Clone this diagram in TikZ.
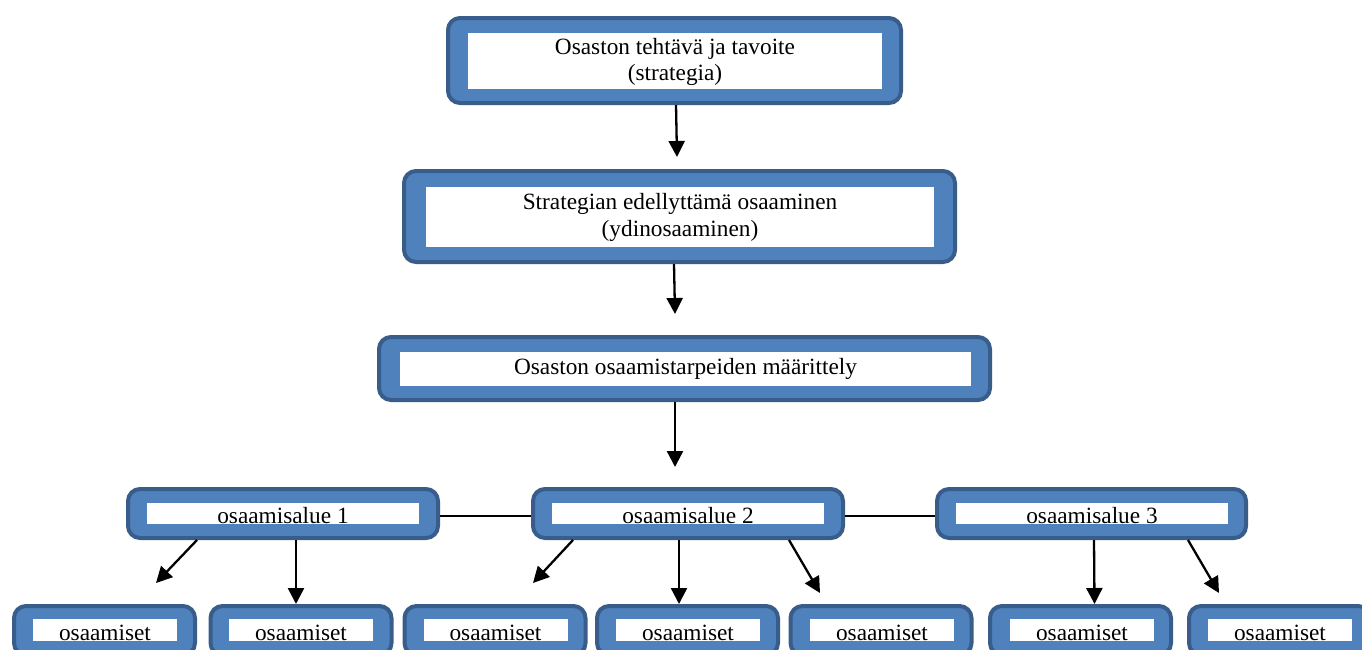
\documentclass[tikz,border=0pt]{standalone}
\usepackage{fontspec}
\setmainfont{Liberation Serif}
\usetikzlibrary{arrows.meta}
\definecolor{boxfill}{HTML}{4F81BD}
\definecolor{boxline}{HTML}{385D8A}
\tikzset{
  outerbox/.style={draw=boxline, line width=4pt, fill=boxfill, rounded corners=12pt, inner sep=0pt},
  innerbox/.style={fill=white, draw=none, inner sep=0pt},
  txt/.style={inner sep=0pt, anchor=base, font=\fontsize{23.3}{28}\selectfont},
  arr/.style={line width=2.3pt, -{Triangle[width=16pt,length=16pt]}},
  link/.style={line width=1.6pt},
  bottombox/.style={outerbox, minimum width=181pt, minimum height=49pt},
  bottominner/.style={innerbox, minimum width=144pt, minimum height=22pt},
  areabox/.style={outerbox, minimum width=310pt, minimum height=49pt},
  areainner/.style={innerbox, minimum width=272pt, minimum height=21pt}
}
\begin{document}
\begin{tikzpicture}[x=1pt,y=-1pt]
\useasboundingbox (0,0) rectangle (1362,649);
\clip (0,0) rectangle (1362,649);
% top box
\node[outerbox, minimum width=453pt, minimum height=85pt] (b1) at (674.5,60.5) {};
\node[innerbox, minimum width=414pt, minimum height=56pt] (b1i) at (675,61) {};
\node[txt] (b1t1) at (675,54) {Osaston tehtävä ja tavoite};
\node[txt] (b1t2) at (675,80) {(strategia)};
% second box
\node[outerbox, minimum width=551pt, minimum height=91pt] (b2) at (679.5,216.5) {};
\node[innerbox, minimum width=508pt, minimum height=60pt] (b2i) at (680,217) {};
\node[txt] (b2t1) at (680,209) {Strategian edellyttämä osaaminen};
\node[txt] (b2t2) at (680,236) {(ydinosaaminen)};
% third box
\node[outerbox, minimum width=611pt, minimum height=63pt] (b3) at (684.5,368.5) {};
\node[innerbox, minimum width=571pt, minimum height=34pt] (b3i) at (685.5,369) {};
\node[txt] (b3t) at (685.5,374) {Osaston osaamistarpeiden määrittely};
% area boxes
\node[areabox] (A1) at (283,513.5) {};
\node[areainner] (A1i) at (283,513.5) {};
\node[txt] (A1t) at (283,523) {osaamisalue 1};
\node[areabox] (A2) at (688,513.5) {};
\node[areainner] (A2i) at (688,513.5) {};
\node[txt] (A2t) at (688,523) {osaamisalue 2};
\node[areabox, minimum width=309pt] (A3) at (1091.5,513.5) {};
\node[areainner] (A3i) at (1092,513.5) {};
\node[txt] (A3t) at (1092,523) {osaamisalue 3};
% bottom boxes
\foreach \n/\ox/\ix in {a/104.5/105, b/301/301, c/495/495.5, d/687.5/688, e/881/882, f/1080.5/1082, g/1279.5/1280}{
  \node[bottombox] (B\n) at (\ox,630.5) {};
  \node[bottominner] (B\n i) at (\ix,630) {};
  \node[txt] (B\n t) at (\ix,640) {osaamiset};
}
% free arrow ends
\coordinate (e1) at (677,157);
\coordinate (e2) at (675,314);
\coordinate (e3) at (675,467);
\coordinate (e4) at (156,583);
\coordinate (e5) at (533,583);
\coordinate (e6) at (820,593);
\coordinate (e7) at (1219,593);
% connectors
\draw[arr] ([xshift=1.5pt]b1.south) -- (e1);
\draw[arr] ([xshift=-5.5pt]b2.south) -- (e2);
\draw[arr] ([xshift=-9.5pt]b3.south) -- (e3);
\draw[link] ([yshift=-2.5pt]A1.east) -- ([yshift=-2.5pt]A2.west);
\draw[link] ([yshift=-2.5pt]A2.east) -- ([yshift=-2.5pt]A3.west);
\draw[arr] ([xshift=-86pt]A1.south) -- (e4);
\draw[arr] ([xshift=13pt]A1.south) -- ([xshift=-5pt]Bb.north);
\draw[arr] ([xshift=-115pt]A2.south) -- (e5);
\draw[arr] ([xshift=-9pt]A2.south) -- ([xshift=-8.5pt]Bd.north);
\draw[arr] ([xshift=101pt]A2.south) -- (e6);
\draw[arr] ([xshift=2.5pt]A3.south) -- ([xshift=14pt]Bf.north);
\draw[arr] ([xshift=96.5pt]A3.south) -- (e7);
\end{tikzpicture}
\end{document}
